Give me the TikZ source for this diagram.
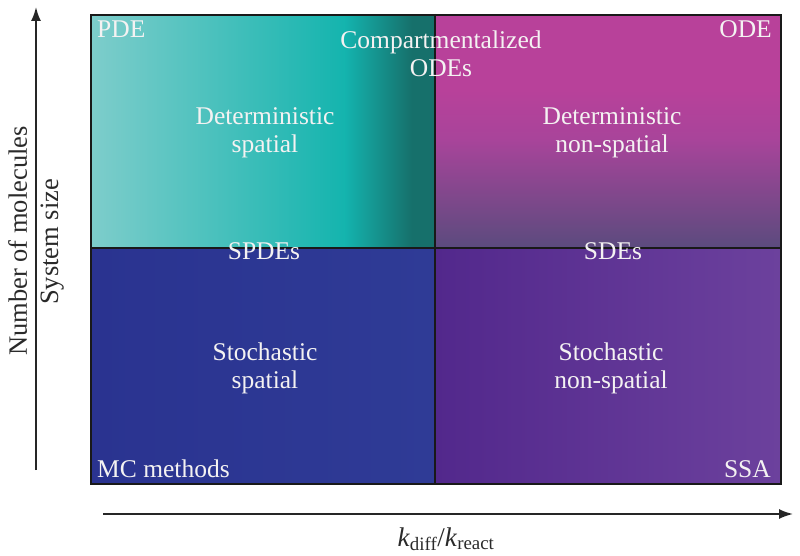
\documentclass[tikz,border=0pt]{standalone}
\usepackage{fontspec}
\setmainfont{Liberation Serif}
\usetikzlibrary{arrows.meta}
\definecolor{tealA}{HTML}{7ECDCB}
\definecolor{tealB}{HTML}{14B4AE}
\definecolor{tealC}{HTML}{16706B}
\definecolor{magA}{HTML}{B8419A}
\definecolor{magB}{HTML}{A8449A}
\definecolor{magC}{HTML}{5B4B7E}
\definecolor{navyA}{HTML}{2A3390}
\definecolor{navyB}{HTML}{2F3B96}
\definecolor{purA}{HTML}{52288C}
\definecolor{purB}{HTML}{6C419D}
\definecolor{txt}{HTML}{F4F2F2}
\definecolor{axtxt}{HTML}{2A2A2A}
\begin{document}
\begin{tikzpicture}[x=1pt,y=-1pt,
  lbl/.style={text=txt,font=\fontsize{25.5}{28}\selectfont,align=center,inner sep=0pt},
  axlbl/.style={text=axtxt,font=\fontsize{26.5}{28}\selectfont,inner sep=0pt},
  axis/.style={line width=1.8pt,draw=black!85,-{Latex[length=14pt,width=10pt]}},
  frame/.style={line width=1.8pt,draw=black!90}]
\useasboundingbox (0,0) rectangle (800,556);
% quadrant fills
\begin{scope}
\clip (90,14.5) rectangle (780,483);
\shade[left color=tealA,right color=tealB] (90,14.5) rectangle (345,248);
\fill[tealC] (405,14.5) rectangle (435,248);
\shade[left color=tealB,right color=tealC] (344.5,14.5) rectangle (412,248);
\fill[magA] (435,14.5) rectangle (780,90);
\shade[top color=magA,bottom color=magB] (435,89.5) rectangle (780,140);
\shade[top color=magB,bottom color=magC] (435,139.5) rectangle (780,248);
\shade[left color=navyA,right color=navyB] (90,248) rectangle (435,483);
\shade[left color=purA,right color=purB] (435,248) rectangle (780,483);
\end{scope}
% frame
\node[frame,draw,minimum width=690pt,minimum height=469pt,inner sep=0pt,anchor=north west] (box) at (90,14) {};
\coordinate (vt) at (435,14);
\coordinate (vb) at (435,483);
\coordinate (hl) at (90,248);
\coordinate (hr) at (780,248);
\draw[frame] (vt) -- (vb);
\draw[frame] (hl) -- (hr);
% labels (base anchor = baseline of last line)
\node[lbl,anchor=base west] (pde) at (97,38) {PDE};
\node[lbl,anchor=base east] (ode) at (772,38) {ODE};
\node[lbl,anchor=base] (comp) at (441,77) {Compartmentalized\\ODEs};
\node[lbl,anchor=base] (dets) at (265,153) {Deterministic\\spatial};
\node[lbl,anchor=base] (detn) at (612,153) {Deterministic\\non-spatial};
\node[lbl,anchor=base] (spde) at (264,259) {SPDEs};
\node[lbl,anchor=base] (sde) at (613,259) {SDEs};
\node[lbl,anchor=base] (stos) at (265,388) {Stochastic\\spatial};
\node[lbl,anchor=base] (ston) at (611,388) {Stochastic\\non-spatial};
\node[lbl,anchor=base west] (mc) at (97,477) {MC methods};
\node[lbl,anchor=base east] (ssa) at (771,477) {SSA};
% axes
\coordinate (ya) at (36,470);
\coordinate (yb) at (36,7);
\draw[axis] (ya) -- (yb);
\coordinate (xa) at (103,514);
\coordinate (xb) at (793,514);
\draw[axis] (xa) -- (xb);
\node[axlbl,rotate=90,anchor=base] (nm) at (27,241) {Number of molecules};
\node[axlbl,rotate=90,anchor=base] (ss) at (58,242) {System size};
\node[axlbl,anchor=base,font=\fontsize{27}{28}\selectfont] (kk) at (446,546) {\textit{k}\textsubscript{diff}/\textit{k}\textsubscript{react}};
\end{tikzpicture}
\end{document}
